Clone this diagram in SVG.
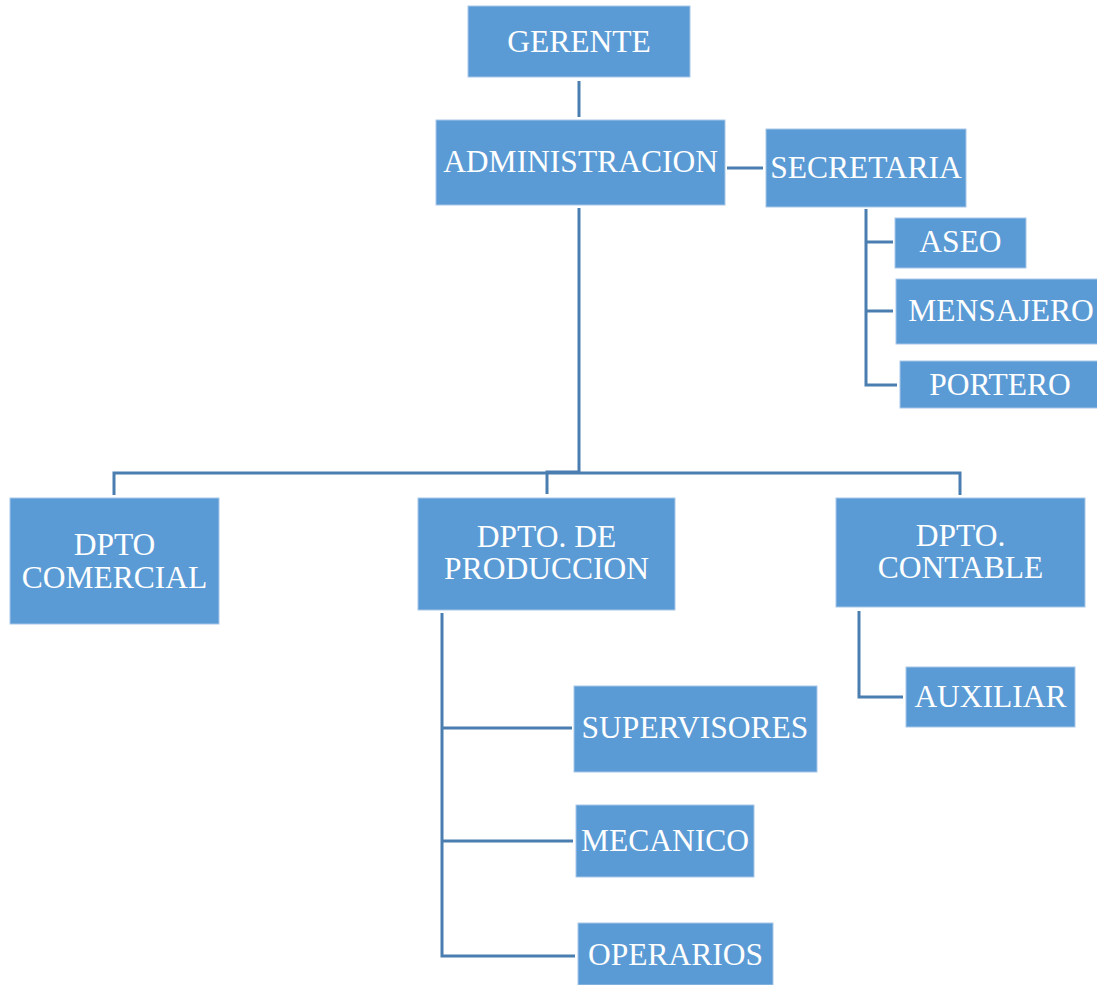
<svg xmlns="http://www.w3.org/2000/svg" width="1097" height="985" viewBox="0 0 1097 985">
<style>
.box{fill:#5B9BD5;stroke:#A7C7E7;stroke-width:1}
.t{font-family:"Liberation Serif","Times New Roman",serif;font-size:31.5px;fill:#ffffff;text-anchor:middle}
.c{fill:none;stroke:#4A7EB1;stroke-width:3}
</style>
<rect width="1097" height="985" fill="#ffffff"/>
<g id="connectors">
<path class="c" d="M579,81 V117"/>
<path class="c" d="M579,208 V472"/>
<path class="c" d="M727,168 H763"/>
<path class="c" d="M866,209 V385 H897"/>
<path class="c" d="M866,242 H893"/>
<path class="c" d="M866,311 H893"/>
<path class="c" d="M114,495 V473 H960 V495"/>
<path class="c" d="M547,494 V472 H579"/>
<path class="c" d="M442,613 V956 H575"/>
<path class="c" d="M442,728 H572"/>
<path class="c" d="M442,841 H573"/>
<path class="c" d="M859,611 V697 H903"/>
</g>
<g id="gerente"><rect class="box" x="468" y="6" width="222" height="71"/><text class="t" x="579" y="52">GERENTE</text></g>
<g id="administracion"><rect class="box" x="436" y="120" width="289" height="85"/><text class="t" x="580.5" y="172">ADMINISTRACION</text></g>
<g id="secretaria"><rect class="box" x="766" y="129" width="200" height="78"/><text class="t" x="866" y="178">SECRETARIA</text></g>
<g id="aseo"><rect class="box" x="895" y="218" width="131" height="50"/><text class="t" x="960.5" y="252">ASEO</text></g>
<g id="mensajero"><rect class="box" x="896" y="279" width="210" height="65"/><text class="t" x="1001" y="321">MENSAJERO</text></g>
<g id="portero"><rect class="box" x="900" y="361" width="200" height="47"/><text class="t" x="1000" y="395">PORTERO</text></g>
<g id="dpto-comercial"><rect class="box" x="10" y="498" width="209" height="126"/><text class="t" x="114.5" y="555">DPTO</text><text class="t" x="114.5" y="588">COMERCIAL</text></g>
<g id="dpto-produccion"><rect class="box" x="418" y="498" width="257" height="112"/><text class="t" x="546.5" y="547">DPTO. DE</text><text class="t" x="546.5" y="579">PRODUCCION</text></g>
<g id="dpto-contable"><rect class="box" x="836" y="498" width="249" height="109"/><text class="t" x="960.5" y="546">DPTO.</text><text class="t" x="960.5" y="578">CONTABLE</text></g>
<g id="auxiliar"><rect class="box" x="906" y="667" width="169" height="60"/><text class="t" x="990.5" y="707">AUXILIAR</text></g>
<g id="supervisores"><rect class="box" x="574" y="686" width="243" height="86"/><text class="t" x="695" y="738">SUPERVISORES</text></g>
<g id="mecanico"><rect class="box" x="576" y="805" width="178" height="72"/><text class="t" x="665" y="851">MECANICO</text></g>
<g id="operarios"><rect class="box" x="578" y="923" width="195" height="62"/><text class="t" x="675.5" y="965">OPERARIOS</text></g>
</svg>
